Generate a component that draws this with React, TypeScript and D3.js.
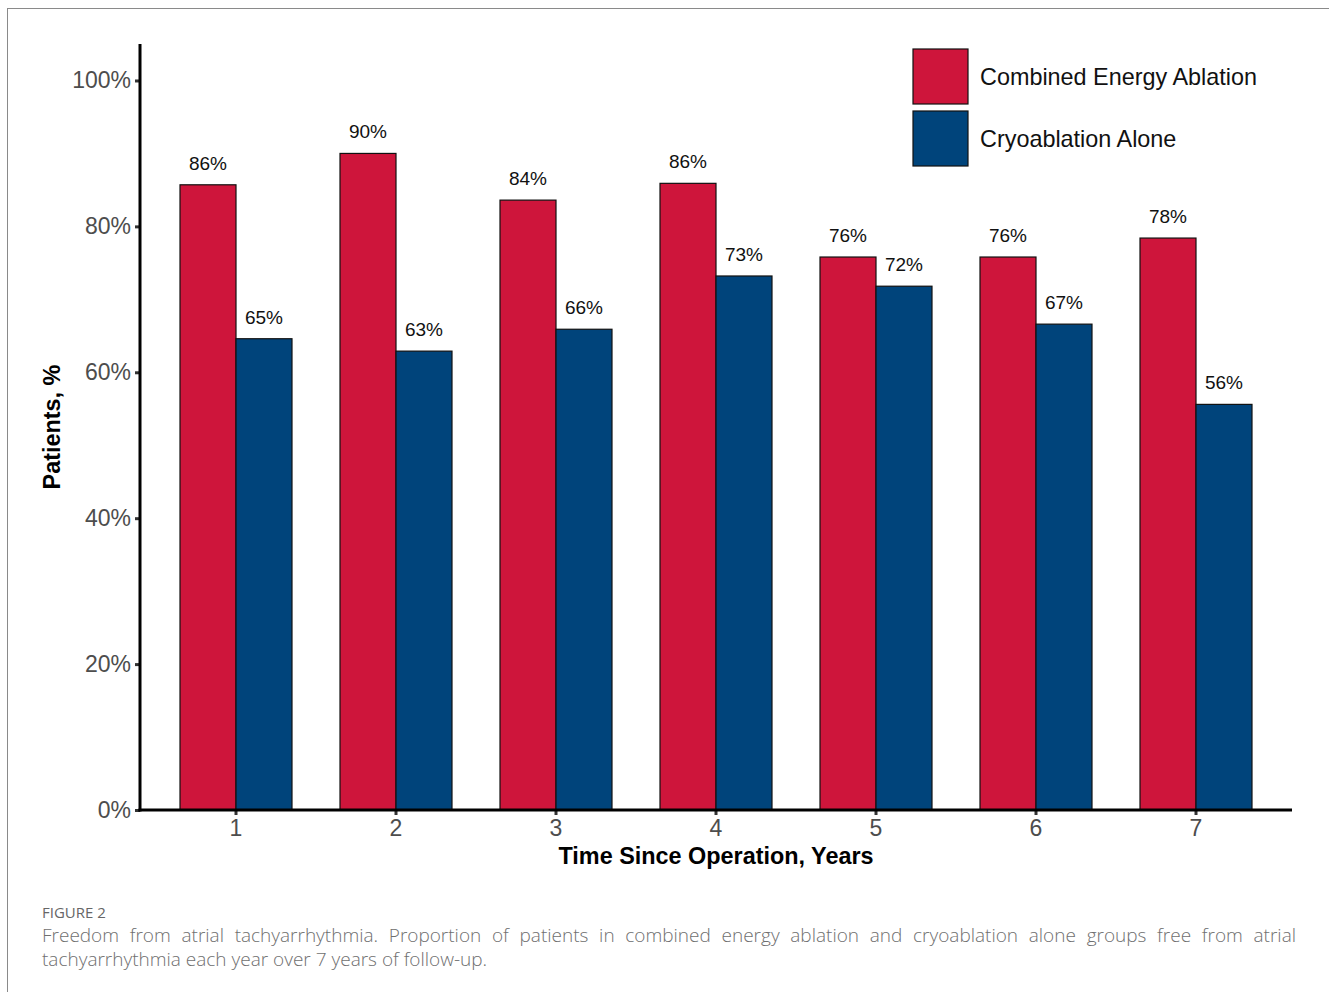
import React, { useEffect, useRef } from 'react';
import * as d3 from 'd3';

// Years since operation and share of patients free from atrial tachyarrhythmia
const years = ['1', '2', '3', '4', '5', '6', '7'];
const combinedEnergy = [85.7, 90.0, 83.6, 85.9, 75.8, 75.8, 78.4];
const cryoAlone = [64.6, 62.9, 65.9, 73.2, 71.8, 66.6, 55.6];
const seriesNames = ['Combined Energy Ablation', 'Cryoablation Alone'];
const seriesColors = ['#CE153B', '#00447B'];
const yTicks = [0, 20, 40, 60, 80, 100];

const captionLabel = 'FIGURE 2';
const captionLines = [
  'Freedom from atrial tachyarrhythmia. Proportion of patients in combined energy ablation and cryoablation alone groups free from atrial',
  'tachyarrhythmia each year over 7 years of follow-up.',
];

const W = 1329;
const H = 992;

const App: React.FC = () => {
  const svgRef = useRef<SVGSVGElement>(null);

  useEffect(() => {
    if (!svgRef.current) return;
    const svg = d3.select(svgRef.current);
    svg.selectAll('*').remove();

    // Figure frame
    svg.append('rect')
      .attr('x', 7.5).attr('y', 8.5)
      .attr('width', W).attr('height', H)
      .attr('fill', 'white')
      .attr('stroke', '#8a8a8a')
      .attr('stroke-width', 1);

    const plot = { left: 140, right: 1292, top: 44, bottom: 810 };

    const x = d3.scaleBand<string>()
      .domain(years)
      .range([plot.left, plot.right])
      .paddingInner(0.3)
      .paddingOuter(0.25);

    const xSub = d3.scaleBand<number>()
      .domain([0, 1])
      .range([0, x.bandwidth()]);

    const y = d3.scaleLinear()
      .domain([0, 105])
      .range([plot.bottom, plot.top]);

    const font = '"Liberation Sans", Arial, Helvetica, sans-serif';
    const series = [combinedEnergy, cryoAlone];

    // Bars
    const g = svg.append('g');
    series.forEach((vals, si) => {
      g.selectAll(`rect.s${si}`)
        .data(vals)
        .enter()
        .append('rect')
        .attr('x', (_, i) => (x(years[i]) as number) + (xSub(si) as number))
        .attr('y', d => y(d))
        .attr('width', xSub.bandwidth())
        .attr('height', d => y(0) - y(d))
        .attr('fill', seriesColors[si])
        .attr('stroke', '#111')
        .attr('stroke-width', 1.2);

      g.selectAll(`text.s${si}`)
        .data(vals)
        .enter()
        .append('text')
        .attr('x', (_, i) => (x(years[i]) as number) + (xSub(si) as number) + xSub.bandwidth() / 2)
        .attr('y', d => y(d) - 15)
        .attr('text-anchor', 'middle')
        .attr('font-family', font)
        .attr('font-size', 19)
        .attr('fill', '#111')
        .text(d => `${Math.round(d)}%`);
    });

    // Y axis
    const yAxis = svg.append('g')
      .attr('transform', `translate(${plot.left},0)`)
      .call(d3.axisLeft(y).tickValues(yTicks).tickSize(5).tickPadding(4).tickFormat(d => `${d}%`));
    yAxis.select('.domain').remove();
    yAxis.selectAll('.tick line').attr('stroke', '#333').attr('stroke-width', 3);
    yAxis.selectAll('.tick text')
      .attr('font-family', font)
      .attr('font-size', 23)
      .attr('fill', '#4d4d4d');
    svg.append('line')
      .attr('x1', plot.left).attr('x2', plot.left)
      .attr('y1', plot.top).attr('y2', plot.bottom + 1.5)
      .attr('stroke', '#000').attr('stroke-width', 3);

    // X axis
    const xAxis = svg.append('g')
      .attr('transform', `translate(0,${plot.bottom})`)
      .call(d3.axisBottom(x).tickSize(5).tickPadding(5));
    xAxis.select('.domain').remove();
    xAxis.selectAll('.tick line').attr('stroke', '#333').attr('stroke-width', 3);
    xAxis.selectAll('.tick text')
      .attr('font-family', font)
      .attr('font-size', 23)
      .attr('fill', '#4d4d4d');
    svg.append('line')
      .attr('x1', plot.left - 1.5).attr('x2', plot.right)
      .attr('y1', plot.bottom).attr('y2', plot.bottom)
      .attr('stroke', '#000').attr('stroke-width', 3);

    // Axis titles
    svg.append('text')
      .attr('x', (plot.left + plot.right) / 2)
      .attr('y', 864)
      .attr('text-anchor', 'middle')
      .attr('font-family', font)
      .attr('font-weight', 'bold')
      .attr('font-size', 23.4)
      .attr('fill', '#000')
      .text('Time Since Operation, Years');

    svg.append('text')
      .attr('transform', `translate(60,${(plot.top + plot.bottom) / 2}) rotate(-90)`)
      .attr('text-anchor', 'middle')
      .attr('font-family', font)
      .attr('font-weight', 'bold')
      .attr('font-size', 23.4)
      .attr('fill', '#000')
      .text('Patients, %');

    // Legend
    const legend = svg.append('g').attr('transform', 'translate(913,49)');
    seriesNames.forEach((name, i) => {
      legend.append('rect')
        .attr('x', 0).attr('y', i * 62)
        .attr('width', 55).attr('height', 55)
        .attr('fill', seriesColors[i])
        .attr('stroke', '#111')
        .attr('stroke-width', 1.2);
      legend.append('text')
        .attr('x', 67).attr('y', i * 62 + 28)
        .attr('dominant-baseline', 'central')
        .attr('font-family', font)
        .attr('font-size', 23.4)
        .attr('fill', '#111')
        .text(name);
    });

    // Caption
    const capFont = '"Open Sans", "Noto Sans", sans-serif';
    svg.append('text')
      .attr('x', 42).attr('y', 918)
      .attr('font-family', capFont)
      .attr('font-size', 15)
      .attr('fill', '#666')
      .text(captionLabel);

    const capLeft = 42;
    const capRight = 1296;
    captionLines.forEach((line, li) => {
      const t = svg.append('text')
        .attr('y', 942 + li * 24)
        .attr('font-family', capFont)
        .attr('font-size', 19)
        .attr('font-weight', 300)
        .attr('fill', '#6f6f6f');
      const words = line.split(' ');
      if (li < captionLines.length - 1) {
        // justified line: place words one by one
        const spans = words.map(w => t.append('tspan').text(w));
        const widths = spans.map(s => (s.node() as SVGTSpanElement).getComputedTextLength());
        const total = d3.sum(widths);
        const gap = (capRight - capLeft - total) / (words.length - 1);
        let cx = capLeft;
        spans.forEach((s, i) => {
          s.attr('x', cx);
          cx += widths[i] + gap;
        });
      } else {
        t.attr('x', capLeft).text(line);
      }
    });
  }, []);

  return (
    <svg
      ref={svgRef}
      width={W}
      height={H}
      style={{ position: 'absolute', left: 0, top: 0, background: 'white' }}
    />
  );
};

export default App;
